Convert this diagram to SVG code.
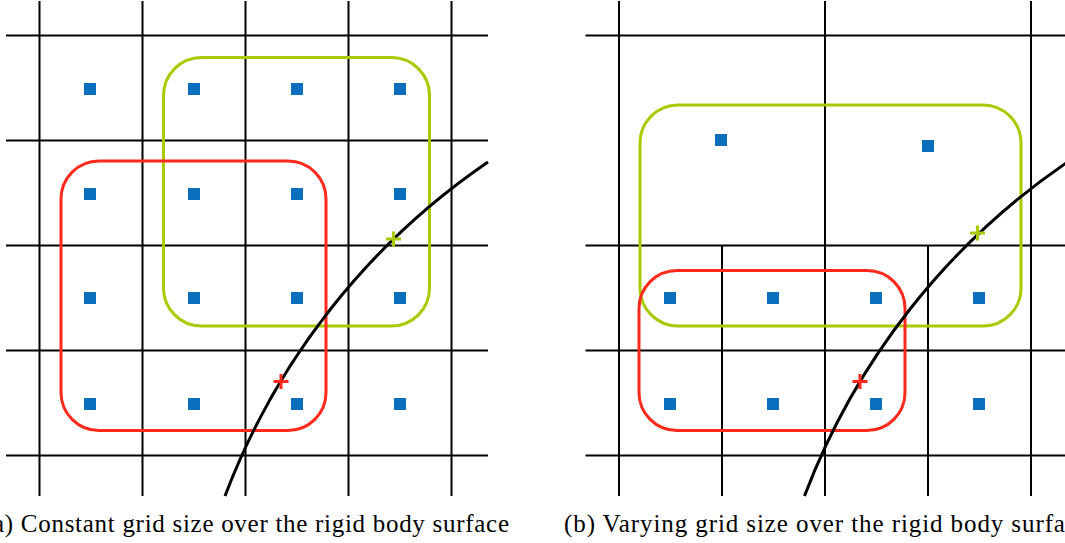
<svg xmlns="http://www.w3.org/2000/svg" width="1065" height="543" viewBox="0 0 1065 543">
<style>
.grid{stroke:#000;stroke-width:2;fill:none}
.sq{fill:#0B6FBE}
.green{stroke:#A9CA00;stroke-width:3;fill:none}
.red{stroke:#FF2A1B;stroke-width:3;fill:none}
.curve{stroke:#000;stroke-width:3;fill:none}
.gx{stroke:#A9CA00;stroke-width:3}
.rx{stroke:#FF2A1B;stroke-width:3}
.cap{font-family:"Liberation Serif","DejaVu Serif",serif;font-size:25px;fill:#000}
</style>
<rect width="1065" height="543" fill="#fff"/>
<defs>
<rect id="s" x="-6" y="-6" width="12" height="12" class="sq"/>
</defs>
<g id="panel-a">
<g id="grid-a" class="grid">
<line x1="39.5" y1="1" x2="39.5" y2="496"/>
<line x1="142.5" y1="1" x2="142.5" y2="496"/>
<line x1="245.5" y1="1" x2="245.5" y2="496"/>
<line x1="348.5" y1="1" x2="348.5" y2="496"/>
<line x1="451.5" y1="1" x2="451.5" y2="496"/>
<line x1="6" y1="35.5" x2="488" y2="35.5"/>
<line x1="6" y1="140.5" x2="488" y2="140.5"/>
<line x1="6" y1="245.5" x2="488" y2="245.5"/>
<line x1="6" y1="350.5" x2="488" y2="350.5"/>
<line x1="6" y1="455.5" x2="488" y2="455.5"/>
</g>
<g id="points-a">
<use href="#s" x="90" y="89"/><use href="#s" x="194" y="89"/><use href="#s" x="297" y="89"/><use href="#s" x="400" y="89"/>
<use href="#s" x="90" y="194"/><use href="#s" x="194" y="194"/><use href="#s" x="297" y="194"/><use href="#s" x="400" y="194"/>
<use href="#s" x="90" y="298"/><use href="#s" x="194" y="298"/><use href="#s" x="297" y="298"/><use href="#s" x="400" y="298"/>
<use href="#s" x="90" y="404"/><use href="#s" x="194" y="404"/><use href="#s" x="297" y="404"/><use href="#s" x="400" y="404"/>
</g>
<g id="green-a"><rect class="green" x="163.5" y="57.5" width="266" height="268.5" rx="38"/></g>
<g id="red-a"><rect class="red" x="61" y="161" width="265" height="269.5" rx="38"/></g>
<g id="surface-a"><path class="curve" d="M225,496 A706.7,706.7 0 0 1 488,162"/></g>
<g id="cross-green-a"><path class="gx" d="M386,239 h15 M393.5,231.5 v15"/></g>
<g id="cross-red-a"><path class="rx" d="M273.5,381.5 h15 M281,374 v15"/></g>
<text class="cap" x="-16" y="532" textLength="525" lengthAdjust="spacing">(a) Constant grid size over the rigid body surface</text>
</g>
<g id="panel-b">
<g id="grid-b" class="grid">
<line x1="619" y1="1" x2="619" y2="496"/>
<line x1="722" y1="245.5" x2="722" y2="496"/>
<line x1="825" y1="1" x2="825" y2="496"/>
<line x1="928" y1="245.5" x2="928" y2="496"/>
<line x1="1031" y1="1" x2="1031" y2="496"/>
<line x1="585.5" y1="35.5" x2="1065" y2="35.5"/>
<line x1="585.5" y1="245.5" x2="1065" y2="245.5"/>
<line x1="585.5" y1="350.5" x2="1065" y2="350.5"/>
<line x1="585.5" y1="455.5" x2="1065" y2="455.5"/>
</g>
<g id="points-b">
<use href="#s" x="721" y="140"/><use href="#s" x="928" y="146"/>
<use href="#s" x="670" y="298"/><use href="#s" x="773" y="298"/><use href="#s" x="876" y="298"/><use href="#s" x="979" y="298"/>
<use href="#s" x="670" y="404"/><use href="#s" x="773" y="404"/><use href="#s" x="876" y="404"/><use href="#s" x="979" y="404"/>
</g>
<g id="green-b"><rect class="green" x="640" y="105" width="381" height="221" rx="38"/></g>
<g id="red-b"><rect class="red" x="639" y="270.5" width="266" height="160" rx="38"/></g>
<g id="surface-b"><path class="curve" d="M804.5,496 A706.7,706.7 0 0 1 1067.5,162"/></g>
<g id="cross-green-b"><path class="gx" d="M970,233 h15 M977.5,225.5 v15"/></g>
<g id="cross-red-b"><path class="rx" d="M852.5,381.5 h15 M860,374 v15"/></g>
<text class="cap" x="564" y="532" textLength="525" lengthAdjust="spacing">(b) Varying grid size over the rigid body surface</text>
</g>
</svg>
